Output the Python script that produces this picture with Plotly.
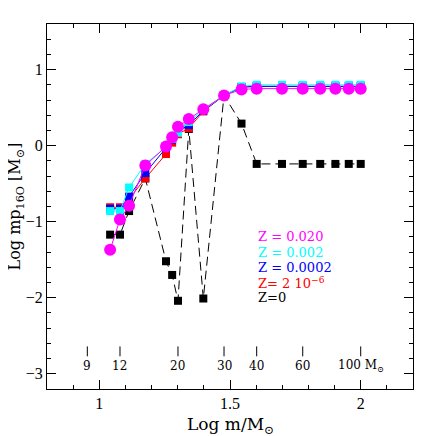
import numpy as np
import plotly.graph_objects as go

# stellar masses (M_sun) of the models
masses = [11, 12, 13, 15, 18, 19, 20, 22, 25, 30, 35, 40, 50, 60, 70, 80, 90, 100]

# log yields for each metallicity
z_0 = [-1.17, -1.17, -0.86, -0.43, -1.52, -1.70, -2.04, 0.22, -2.01, 0.66, 0.29,
       -0.24, -0.24, -0.24, -0.24, -0.24, -0.24, -0.24]
z_2e6 = [-0.81, -0.81, -0.70, -0.43, -0.11, 0.04, 0.15, 0.23, 0.45, 0.66, 0.77,
         0.78, 0.78, 0.78, 0.78, 0.78, 0.78, 0.78]
z_2e4 = [-0.83, -0.83, -0.67, -0.36, -0.03, 0.08, 0.19, 0.27, 0.46, 0.66, 0.77,
         0.78, 0.78, 0.78, 0.78, 0.78, 0.78, 0.78]
z_2e3 = [-0.86, -0.86, -0.55, -0.24, -0.02, 0.09, 0.17, 0.31, 0.47, 0.66, 0.78,
         0.80, 0.80, 0.80, 0.80, 0.80, 0.80, 0.80]
z_02 = [-1.37, -0.97, -0.79, -0.26, -0.01, 0.11, 0.25, 0.35, 0.48, 0.66, 0.74,
        0.75, 0.75, 0.75, 0.75, 0.75, 0.75, 0.75]

# inner mass scale
mass_marks = [9, 12, 20, 30, 40, 60, 100]
mass_text = ["9", "12", "20", "30", "40", "60", "100 M<sub>⊙</sub>"]

legend_text = ["Z = 0.020", "Z = 0.002", "Z = 0.0002", "Z= 2 10<sup>−6</sup>", "Z=0"]
legend_col = ["#ff00ff", "#00ffff", "#0000ff", "#ff0000", "#000000"]

FONT = "Liberation Serif"
WIDE = "DejaVu Serif"
logm = np.log10(masses)

fig = go.Figure()

series = [
    (z_0, "#000000", "square", 8, "9px,5px"),
    (z_2e6, "#ff0000", "square", 8, "solid"),
    (z_2e4, "#0000ff", "square", 8, "solid"),
    (z_2e3, "#00ffff", "square", 8, "solid"),
    (z_02, "#ff00ff", "circle", 12, "solid"),
]
for vals, col, sym, size, dash in series:
    fig.add_trace(go.Scatter(
        x=logm, y=vals, mode="lines+markers",
        line=dict(color=col, width=1, dash=dash),
        marker=dict(symbol=sym, size=size, color=col),
        showlegend=False, hoverinfo="skip"))

# tick marks of the inner mass scale
tx, ty = [], []
for m in mass_marks:
    tx += [np.log10(m), np.log10(m), None]
    ty += [-2.64, -2.77, None]
fig.add_trace(go.Scatter(x=tx, y=ty, mode="lines", line=dict(color="black", width=1),
                         showlegend=False, hoverinfo="skip"))
for m, t in zip(mass_marks, mass_text):
    fig.add_annotation(x=np.log10(m), y=-2.9, text=t, showarrow=False,
                       font=dict(family=WIDE, size=12, color="black"))

for i, (t, c) in enumerate(zip(legend_text, legend_col)):
    fig.add_annotation(x=1.6, y=-1.2 - 0.2 * i, text=t, showarrow=False, xanchor="left",
                       font=dict(family=WIDE, size=13, color=c))

# axis titles
fig.add_annotation(xref="paper", yref="paper", x=0.5, y=-0.1, yanchor="middle",
                   text="Log m/M<sub>⊙</sub>", showarrow=False,
                   font=dict(family=WIDE, size=17, color="black"))
fig.add_annotation(xref="paper", yref="paper", x=-0.085, y=0.5, xanchor="center",
                   yanchor="middle", textangle=-90,
                   text="Log mp<sub>16O</sub> [M<sub>⊙</sub>]", showarrow=False,
                   font=dict(family=WIDE, size=16, color="black"))

axis = dict(showline=True, linecolor="black", linewidth=1, mirror="allticks",
            ticks="inside", ticklen=9, tickcolor="black", showgrid=False, zeroline=False,
            automargin=False, tickfont=dict(family=FONT, size=16, color="black"))
fig.update_xaxes(range=[0.8, 2.2], tickvals=[1, 1.5, 2], ticktext=["1", "1.5", "2"],
                 minor=dict(dtick=0.1, tick0=0.8, ticks="inside", ticklen=4, tickcolor="black"),
                 **axis)
fig.update_yaxes(range=[-3.2, 1.6], tickvals=[-3, -2, -1, 0, 1],
                 minor=dict(dtick=0.2, tick0=0, ticks="inside", ticklen=4, tickcolor="black"),
                 **axis)
# page body adds an 8px offset, so margins are shifted to land the frame where the reference has it
fig.update_layout(width=436, height=436, margin=dict(l=39, r=31, t=16, b=55),
                  plot_bgcolor="white", paper_bgcolor="white")
fig.write_html("out.html")
